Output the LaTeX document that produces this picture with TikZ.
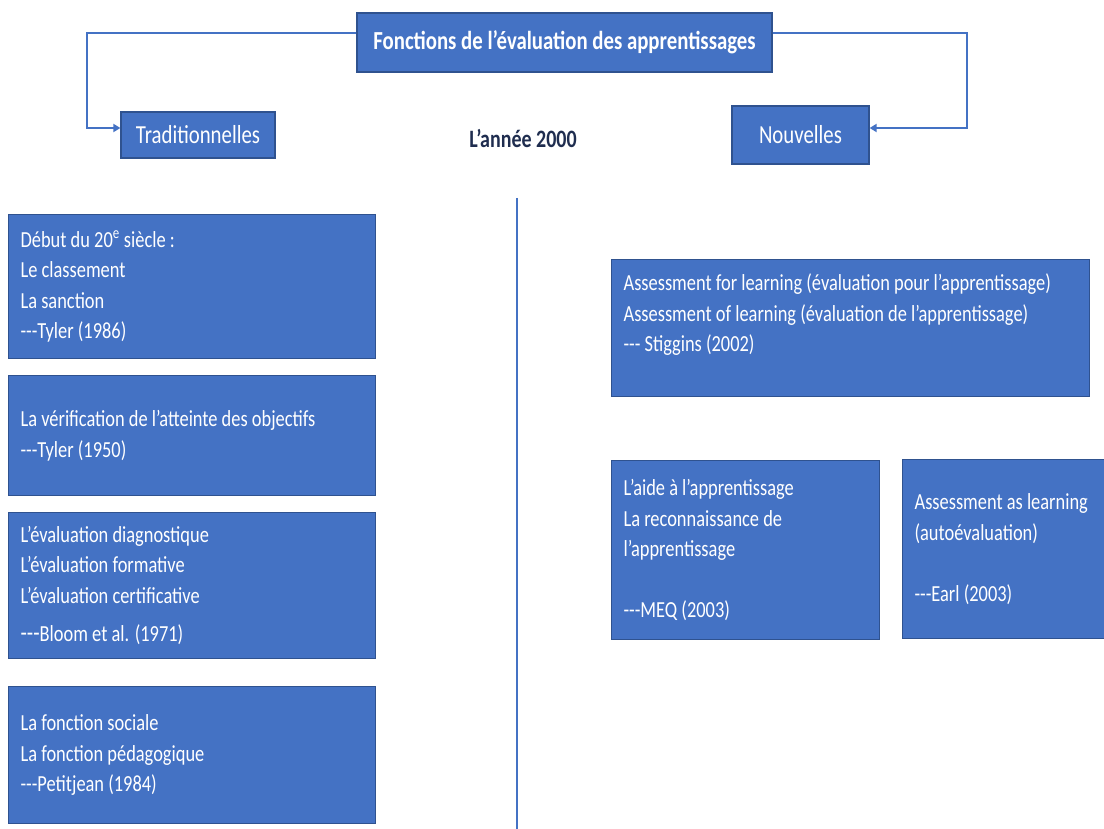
\documentclass[tikz,border=0pt]{standalone}
\usepackage{fontspec}
\setmainfont{Carlito}[FakeStretch=0.8]
\usetikzlibrary{arrows.meta}
\definecolor{boxblue}{HTML}{4472C4}
\definecolor{boxedge}{HTML}{2F528F}
\definecolor{navytext}{HTML}{1F2D4F}
% three separate hyphens, kept from turning into a dash
\newcommand\tdash{-\kern0pt-\kern0pt-}
\begin{document}
\begin{tikzpicture}[x=1pt,y=-1pt,
  infobox/.style={draw=boxedge, line width=1.2pt, fill=boxblue, text=white,
    font=\fontsize{23}{30.5}\selectfont, align=flush left, anchor=north west,
    inner xsep=12pt, inner ysep=0pt},
  headbox/.style={draw=boxedge, line width=1.2pt, fill=boxblue, text=white,
    inner sep=0pt},
  conn/.style={draw=boxblue, line width=2pt,
    -{Triangle[length=7pt,width=8pt]}}]
\useasboundingbox (0,0) rectangle (1104,829);

% header
\node[headbox, minimum width=415pt, minimum height=59pt,
  font=\fontsize{26}{30}\selectfont\bfseries] (title) at (564.5,42.5)
  {Fonctions de l’évaluation des apprentissages};
\node[headbox, minimum width=154pt, minimum height=46pt,
  font=\fontsize{26}{30}\selectfont] (trad) at (198,135) {Traditionnelles};
\node[headbox, minimum width=137pt, minimum height=58pt,
  font=\fontsize{26}{30}\selectfont] (nouv) at (800.5,135) {Nouvelles};
\node[text=navytext, font=\fontsize{25}{30}\selectfont\bfseries] (year)
  at (523,138) {L’année 2000};

\draw[conn] ([yshift=9.5pt]title.west) -| ([xshift=-33pt,yshift=7pt]trad.west)
  -- ([yshift=7pt]trad.west);
\draw[conn] ([yshift=9.5pt]title.east) -| ([xshift=97pt,yshift=7pt]nouv.east)
  -- ([yshift=7pt]nouv.east);

% divider between the two columns
\coordinate (divtop) at (517,198);
\coordinate (divbot) at (517,829);
\draw[boxblue, line width=1.6pt] (divtop) -- (divbot);

% traditional functions
\node[infobox, text width=343pt, minimum height=144pt] (t1) at (8,214)
  {Début du 20\textsuperscript{e} siècle :\\ Le classement\\ La sanction\\ \tdash Tyler (1986)};
\node[infobox, text width=343pt, minimum height=120pt] (t2) at (8,375)
  {La vérification de l’atteinte des objectifs\\ \tdash Tyler (1950)};
\node[infobox, text width=343pt, minimum height=146pt] (t3) at (8,512)
  {L’évaluation diagnostique\\ L’évaluation formative\\ L’évaluation certificative\\[8pt]
   {\fontsize{26}{30}\selectfont\tdash}Bloom et al. (1971)};
\node[infobox, text width=343pt, minimum height=137pt] (t4) at (8,686)
  {La fonction sociale\\ La fonction pédagogique\\ \tdash Petitjean (1984)};

% new functions
\node[infobox, text width=454pt, minimum height=137pt] (n1) at (611,259)
  {Assessment for learning (évaluation pour l’apprentissage)\\
   Assessment of learning (évaluation de l’apprentissage)\\
   \tdash{} Stiggins (2002)\\ \mbox{}};
\node[infobox, text width=244pt, minimum height=179pt] (n2) at (611,460)
  {L’aide à l’apprentissage\\ La reconnaissance de\\ l’apprentissage\\[30.5pt]
   \tdash MEQ (2003)};
\node[infobox, text width=182pt, minimum height=179pt] (n3) at (902,459)
  {Assessment as learning\\ (autoévaluation)\\[30.5pt] \tdash Earl (2003)};
\end{tikzpicture}
\end{document}
